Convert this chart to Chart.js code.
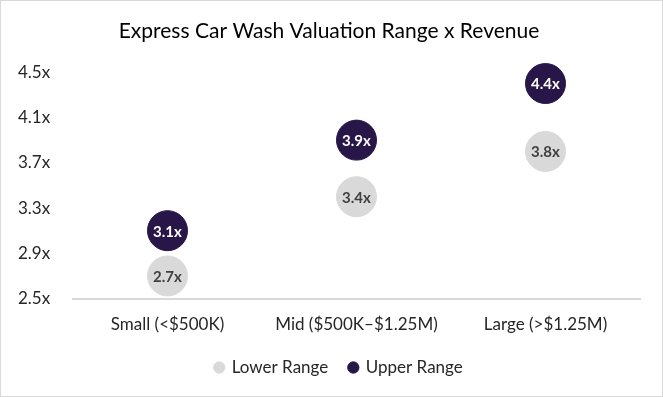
<!DOCTYPE html>
<html>
<head>
<meta charset="utf-8">
<script src="https://cdn.jsdelivr.net/npm/chart.js@4"></script>
<style>
  body{margin:0;background:#fff;}
  #box{width:661px;height:395px;border:1px solid #d9d9d9;}
</style>
</head>
<body>
<div id="box"><canvas id="myChart" width="661" height="395"></canvas></div>
<script>
const categories = ['Small (<$500K)', 'Mid ($500K\u2013$1.25M)', 'Large (>$1.25M)'];
const lowerRange = [2.7, 3.4, 3.8];
const upperRange = [3.1, 3.9, 4.4];
const yTicks = [2.5, 2.9, 3.3, 3.7, 4.1, 4.5];

const FONT = 'Lato, "Open Sans", sans-serif';

// draw the "3.1x" text in the middle of every bubble
const bubbleText = {
  id: 'bubbleText',
  afterDatasetsDraw(chart){
    const ctx = chart.ctx;
    chart.data.datasets.forEach((ds, i)=>{
      chart.getDatasetMeta(i).data.forEach((pt, j)=>{
        ctx.save();
        ctx.font = 'bold 15px ' + FONT;
        ctx.fillStyle = ds.textColor;
        ctx.textAlign = 'center';
        ctx.textBaseline = 'middle';
        ctx.fillText(ds.data[j].toFixed(1) + 'x', pt.x, pt.y + 1);
        ctx.restore();
      });
    });
  }
};

// nudge the legend a bit to the right, like the original
const legendShift = {
  id: 'legendShift',
  afterLayout(chart){
    chart.legend.left += 10;
    chart.legend.right += 10;
  }
};

const ctx = document.getElementById('myChart');
new Chart(ctx, {
  type: 'line',
  data: {
    labels: categories,
    datasets: [{
      label: 'Lower Range',
      data: lowerRange,
      showLine: false,
      pointRadius: 20,
      pointHoverRadius: 20,
      pointBackgroundColor: '#d9d9d9',
      pointBorderColor: '#d9d9d9',
      backgroundColor: '#d9d9d9',
      borderColor: '#d9d9d9',
      textColor: '#404040',
      clip: false
    }, {
      label: 'Upper Range',
      data: upperRange,
      showLine: false,
      pointRadius: 20,
      pointHoverRadius: 20,
      pointBackgroundColor: '#271647',
      pointBorderColor: '#271647',
      backgroundColor: '#271647',
      borderColor: '#271647',
      textColor: '#ffffff',
      clip: false
    }]
  },
  options: {
    responsive: false,
    animation: false,
    layout: { padding: { left: 17, right: 22, top: 6, bottom: 10 } },
    plugins: {
      title: {
        display: true,
        text: 'Express Car Wash Valuation Range x Revenue',
        color: '#000',
        font: { family: FONT, size: 21, weight: 'normal' },
        padding: { top: 12, bottom: 28 }
      },
      legend: {
        position: 'bottom',
        labels: {
          usePointStyle: true,
          pointStyle: 'circle',
          boxWidth: 8,
          boxHeight: 8,
          padding: 8,
          color: '#262626',
          font: { family: FONT, size: 17 },
          generateLabels(chart){
            const items = Chart.defaults.plugins.legend.labels.generateLabels(chart);
            items[0].text += '   '; // wider gap between the two entries
            return items;
          }
        }
      },
      tooltip: { enabled: false }
    },
    scales: {
      x: {
        offset: true,
        grid: { display: false, drawTicks: false },
        border: { color: '#d9d9d9', width: 2 },
        ticks: { color: '#262626', font: { family: FONT, size: 17 }, padding: 16 }
      },
      y: {
        min: 2.5,
        max: 4.5,
        afterBuildTicks(scale){ scale.ticks = yTicks.map(v=>({value:v})); },
        afterFit(scale){ scale.width = 55; },
        grid: { display: false, drawTicks: false },
        border: { display: false },
        ticks: {
          crossAlign: 'far',
          color: '#262626',
          font: { family: FONT, size: 17 },
          callback: function(value){ return value.toFixed(1) + 'x'; }
        }
      }
    }
  },
  plugins: [bubbleText, legendShift]
});
</script>
</body>
</html>
